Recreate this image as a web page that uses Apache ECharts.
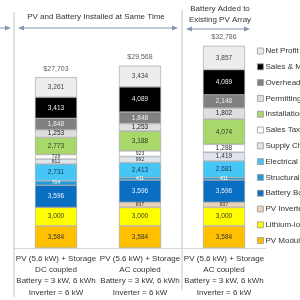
<!DOCTYPE html>
<html><head><meta charset="utf-8">
<script src="https://cdn.jsdelivr.net/npm/echarts@6/dist/echarts.min.js"></script>
<style>html,body{margin:0;padding:0;background:#fff}#c{width:300px;height:300px}</style>
</head><body><div id="c"></div>
<script>
const categories = [
  'PV (5.6 kW) + Storage\nDC coupled\nBattery = 3 kW, 6 kWh\nInverter = 6 kW',
  'PV (5.6 kW) + Storage\nAC coupled\nBattery = 3 kW, 6 kWh\nInverter = 6 kW',
  'PV (5.6 kW) + Storage\nAC coupled\nBattery = 3 kW, 6 kWh\nInverter = 6 kW'
];
const pvModules      = [3584, 3584, 3584];
const lithiumBattery = [3000, 3000, 3000];
const pvInverter     = [0, 837, 837];
const batteryBos     = [3596, 3596, 3596];
const structuralBos  = [704, 411, 411];
const electricalBos  = [2731, 2413, 2681];
const supplyChain    = [812, 992, 1419];
const salesTax       = [728, 923, 1288];
const installation   = [2773, 3188, 4074];
const permitting     = [1253, 1253, 1802];
const overhead       = [1848, 1848, 2148];
const salesMarketing = [3413, 4089, 4089];
const netProfit      = [3261, 3434, 3857];
const totals         = [27703, 29568, 32786];

const FONT = '"Liberation Sans",Arial,sans-serif';
const fmt = v => v.toLocaleString('en-US');

const seriesDefs = [
  ['PV Modules', pvModules, '#ffc000', '#333'],
  ['Lithium-ion Battery', lithiumBattery, '#ffff00', '#333'],
  ['PV Inverter', pvInverter, '#ecd3b8', '#333'],
  ['Battery BoS', batteryBos, '#0a6fc2', '#e8f0ff'],
  ['Structural BoS', structuralBos, '#1f9bd8', '#fff'],
  ['Electrical BoS', electricalBos, '#45c6f4', '#1f3a60'],
  ['Supply Chain Costs', supplyChain, '#dfe5ec', '#333'],
  ['Sales Tax', salesTax, '#ffffff', '#333'],
  ['Installation Labor & Equipment', installation, '#a8d86c', '#2f3a20'],
  ['Permitting, Inspection, Interconnection', permitting, '#dedede', '#222'],
  ['Overhead (general & administrative)', overhead, '#808080', '#eee'],
  ['Sales & Marketing', salesMarketing, '#000000', '#eee'],
  ['Net Profit', netProfit, '#ededed', '#444']
];

const series = seriesDefs.map(([name, vals, color, lc]) => ({
  name, type: 'bar', stack: 'total', barWidth: 42,
  itemStyle: { color, borderColor: '#a0a0a0', borderWidth: 0.6 },
  label: { show: true, position: 'inside', color: lc, fontFamily: FONT,
    formatter: p => p.value ? fmt(p.value) : '' },
  data: vals.map(v => ({ value: v, label: { fontSize: v < 1200 ? 5 : 6.5 } }))
}));

series.push({
  name: 'Total', type: 'scatter', symbolSize: 0, z: 10,
  label: { show: true, position: 'top', distance: 5, color: '#333', fontSize: 7,
    fontFamily: FONT, formatter: p => '$' + fmt(p.value) },
  data: totals
});

const lineC = '#8497b0';
function arrowHead(x, y, dir) {
  return { type: 'polygon', shape: { points: [[x, y], [x - 6 * dir, y - 2.6], [x - 6 * dir, y + 2.6]] },
    style: { fill: lineC } };
}
const graphic = [
  { type: 'line', shape: { x1: 14, y1: 12, x2: 14, y2: 297 }, style: { stroke: '#c4c4c4', lineWidth: 1 } },
  { type: 'line', shape: { x1: 182, y1: 10, x2: 182, y2: 290 }, style: { stroke: '#c4c4c4', lineWidth: 1 } },
  { type: 'line', shape: { x1: 0, y1: 28, x2: 8, y2: 28 }, style: { stroke: lineC, lineWidth: 1 } },
  arrowHead(11, 28, 1),
  { type: 'line', shape: { x1: 20, y1: 28, x2: 176, y2: 28 }, style: { stroke: lineC, lineWidth: 1 } },
  arrowHead(18, 28, -1), arrowHead(178, 28, 1),
  { type: 'line', shape: { x1: 188, y1: 29, x2: 248, y2: 29 }, style: { stroke: lineC, lineWidth: 1 } },
  arrowHead(186, 29, -1), arrowHead(250, 29, 1),
  { type: 'text', x: 96, y: 17, style: { text: 'PV and Battery Installed at Same Time', fill: '#333', fontSize: 8,
    fontFamily: FONT, align: 'center', verticalAlign: 'middle' } },
  { type: 'text', x: 220, y: 14, style: { text: 'Battery Added to\nExisting PV Array', fill: '#333', fontSize: 8,
    lineHeight: 11, fontFamily: FONT, align: 'center', verticalAlign: 'middle' } }
];

const chart = echarts.init(document.getElementById('c'), null, { renderer: 'canvas' });
chart.setOption({
  animation: false,
  backgroundColor: '#fff',
  grid: { left: 14, right: 34, top: 26, bottom: 52 },
  xAxis: { type: 'category', data: categories,
    axisLine: { lineStyle: { color: '#d8d8d8' } }, axisTick: { show: false },
    axisLabel: { color: '#333', fontSize: 8, lineHeight: 11.3, margin: 5, fontFamily: FONT, interval: 0 } },
  yAxis: { type: 'value', min: 0, max: 36000, show: false },
  legend: {
    orient: 'vertical', left: 252, top: 40, selectedMode: false,
    itemWidth: 6, itemHeight: 6, itemGap: 3.8, icon: 'rect',
    itemStyle: { borderColor: '#999', borderWidth: 0.8 },
    textStyle: { fontSize: 8, color: '#333', fontFamily: FONT, lineHeight: 12, padding: [0, 0, 0, -3] },
    data: seriesDefs.map(d => d[0]).reverse()
  },
  graphic,
  series
});
</script></body></html>
